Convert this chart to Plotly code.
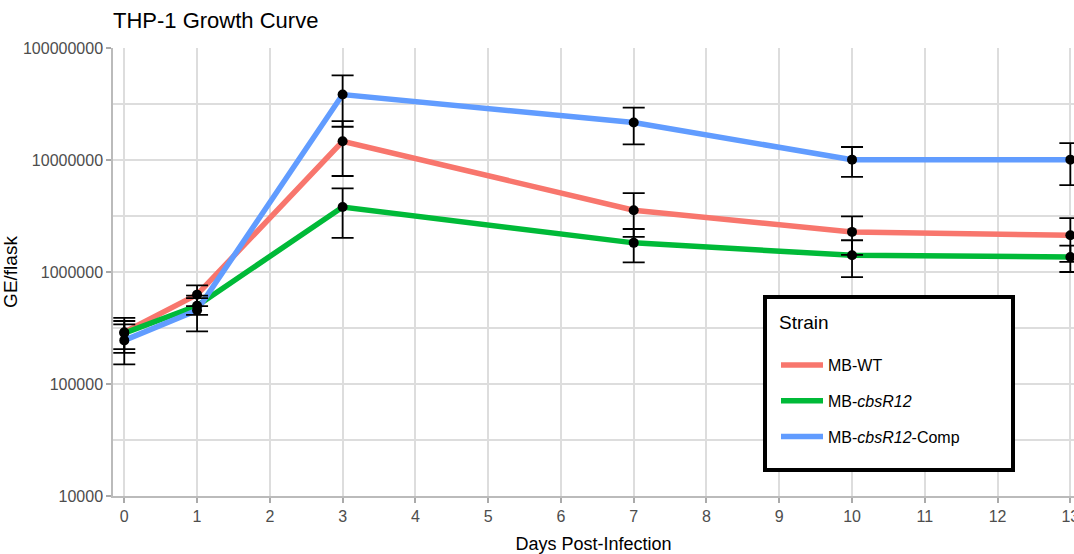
import plotly.graph_objects as go

days = [0, 1, 3, 7, 10, 13]

strains = ["MB-WT", "MB-<i>cbsR12</i>", "MB-<i>cbsR12</i>-Comp"]
colors = ["#F8766D", "#00BA38", "#619CFF"]

wt_mean = [290000, 628000, 14700000, 3560000, 2280000, 2130000]
wt_sd = [100000, 132000, 7500000, 1500000, 860000, 900000]

cbs_mean = [285000, 500000, 3800000, 1820000, 1410000, 1360000]
cbs_sd = [80000, 85000, 1780000, 600000, 510000, 360000]

comp_mean = [245000, 455000, 38400000, 21600000, 10070000, 10070000]
comp_sd = [95000, 160000, 18600000, 7800000, 3000000, 4100000]

means = [wt_mean, cbs_mean, comp_mean]
sds = [wt_sd, cbs_sd, comp_sd]

y_ticks = [1e4, 1e5, 1e6, 1e7, 1e8]
y_ticktext = ["10000", "100000", "1000000", "10000000", "100000000"]
y_minor = [10**4.5, 10**5.5, 10**6.5, 10**7.5]
x_ticks = list(range(0, 14))

W, H = 1074, 554
L, R, T, B = 113, 0, 48, 58
pw = W - L - R
ph = H - T - B


def px_x(p):
    return (p - L) / pw


def px_y(p):
    return (H - B - p) / ph


fig = go.Figure()

for name, col, m in zip(strains, colors, means):
    fig.add_trace(go.Scatter(
        x=days, y=m, mode="lines", name=name,
        line=dict(color=col, width=5.5),
        legendgroup=name, showlegend=True,
    ))

for name, m, s in zip(strains, means, sds):
    fig.add_trace(go.Scatter(
        x=days, y=m, mode="markers", name=name,
        marker=dict(color="black", size=10),
        error_y=dict(type="data", array=s, visible=True, color="black",
                     thickness=1.8, width=11),
        legendgroup=name, showlegend=False,
    ))

grid = "#dddddd"
fig.update_layout(
    width=W, height=H,
    margin=dict(l=L, r=R, t=T, b=B),
    paper_bgcolor="white", plot_bgcolor="white",
    font=dict(family="Liberation Sans, Arial, sans-serif", color="black"),
    title=dict(text="THP-1 Growth Curve", x=L / W, xref="container",
               xanchor="left", y=1 - 20 / H, yref="container", yanchor="middle",
               font=dict(size=22, color="black")),
    xaxis=dict(
        range=[-0.155, 13.05], tickvals=x_ticks, ticktext=[str(v) for v in x_ticks],
        showgrid=True, gridcolor=grid, gridwidth=1.5, zeroline=False,
        showline=True, linecolor="#bbbbbb", linewidth=1.5,
        ticks="outside", tickcolor="#aaaaaa", ticklen=5, tickwidth=1.5,
        tickfont=dict(size=16, color="#4d4d4d"), ticklabeloverflow="allow",
        automargin=False,
        title=dict(text="Days Post-Infection", font=dict(size=18, color="black")),
    ),
    yaxis=dict(
        type="log", range=[4, 8], tickvals=y_ticks, ticktext=y_ticktext,
        showgrid=True, gridcolor=grid, gridwidth=1.5, zeroline=False,
        showline=True, linecolor="#bbbbbb", linewidth=1.5,
        ticks="outside", tickcolor="#aaaaaa", ticklen=5, tickwidth=1.5,
        tickfont=dict(size=16, color="#4d4d4d"), automargin=False,
        minor=dict(tickvals=y_minor, showgrid=True, gridcolor=grid, gridwidth=1.5, ticks=""),
        title=dict(text="GE/flask", font=dict(size=19, color="black")),
    ),
    shapes=[dict(
        type="rect", xref="paper", yref="paper", layer="above",
        x0=px_x(765), x1=px_x(1013), y0=px_y(470), y1=px_y(297),
        fillcolor="white", line=dict(color="black", width=4),
    )],
    annotations=[dict(
        text="Strain", xref="paper", yref="paper", x=px_x(777), y=px_y(322),
        xanchor="left", yanchor="middle", showarrow=False,
        font=dict(size=19, color="black"),
    )],
    legend=dict(
        x=px_x(776), y=px_y(348), xanchor="left", yanchor="top",
        bgcolor="rgba(0,0,0,0)", borderwidth=0,
        font=dict(size=16, color="black"),
        tracegroupgap=12, itemwidth=42,
    ),
)

fig.write_html(
    "out.html",
    config={"displayModeBar": False},
    post_script="document.body.style.margin='0';document.body.style.overflow='hidden';",
)
